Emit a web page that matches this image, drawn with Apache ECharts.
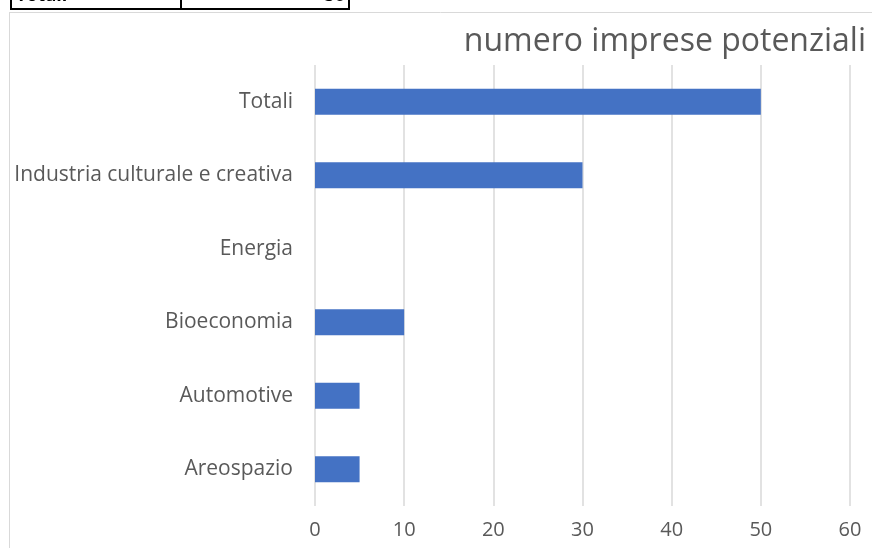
<!DOCTYPE html>
<html><head><meta charset="utf-8">
<script src="https://cdn.jsdelivr.net/npm/echarts@6/dist/echarts.min.js"></script>
<style>html,body{margin:0;padding:0;background:#fff}#c{width:872px;height:548px}</style>
</head><body><div id="c"></div>
<script>
const categories = ["Areospazio", "Automotive", "Bioeconomia", "Energia", "Industria culturale e creativa", "Totali"];
const values = [5, 5, 10, null, 30, 50];
const xTicks = [0, 10, 20, 30, 40, 50, 60];
const titleText = "numero imprese potenziali";
const tableRow = ["Totali", "50"];

const chart = echarts.init(document.getElementById('c'));
const FONT = "Open Sans";
chart.setOption({
  animation: false,
  title: {
    text: titleText, right: 1, top: 21,
    textStyle: {fontFamily: FONT, fontSize: 32, fontWeight: 'normal', color: '#595959'}
  },
  grid: {left: 315, right: 22, top: 65, bottom: 42, containLabel: false},
  xAxis: {
    type: 'value', min: xTicks[0], max: xTicks[xTicks.length-1], interval: 10,
    axisLine: {show: false}, axisTick: {show: false},
    splitLine: {lineStyle: {color: '#d9d9d9', width: 1.5}},
    axisLabel: {fontFamily: FONT, fontSize: 20, color: '#595959', margin: 14}
  },
  yAxis: {
    type: 'category', data: categories,
    axisLine: {show: false}, axisTick: {show: false},
    axisLabel: {fontFamily: FONT, fontSize: 21, color: '#595959', margin: 22}
  },
  series: [{
    type: 'bar', data: values, barWidth: 26,
    itemStyle: {color: '#4472c4'}
  }],
  graphic: [
    {type: 'line', shape: {x1: 9.5, y1: 12, x2: 9.5, y2: 548}, style: {stroke: '#d9d9d9', lineWidth: 1}},
    {type: 'line', shape: {x1: 9, y1: 12.5, x2: 872, y2: 12.5}, style: {stroke: '#d9d9d9', lineWidth: 1}},
    {type: 'line', shape: {x1: 11, y1: 0, x2: 11, y2: 9}, style: {stroke: '#000', lineWidth: 2}},
    {type: 'line', shape: {x1: 181, y1: 0, x2: 181, y2: 9}, style: {stroke: '#000', lineWidth: 2}},
    {type: 'line', shape: {x1: 349, y1: 0, x2: 349, y2: 9}, style: {stroke: '#000', lineWidth: 2}},
    {type: 'line', shape: {x1: 10, y1: 9, x2: 350, y2: 9}, style: {stroke: '#000', lineWidth: 2}},
    {type: 'text', x: 16, y: 5, style: {text: tableRow[0], fontFamily: FONT, fontWeight: 'bold', fontSize: 18, fill: '#000', textVerticalAlign: 'bottom'}},
    {type: 'text', x: 345, y: 5, style: {text: tableRow[1], fontFamily: FONT, fontWeight: 'bold', fontSize: 18, fill: '#000', textAlign: 'right', textVerticalAlign: 'bottom'}}
  ]
});
</script></body></html>
